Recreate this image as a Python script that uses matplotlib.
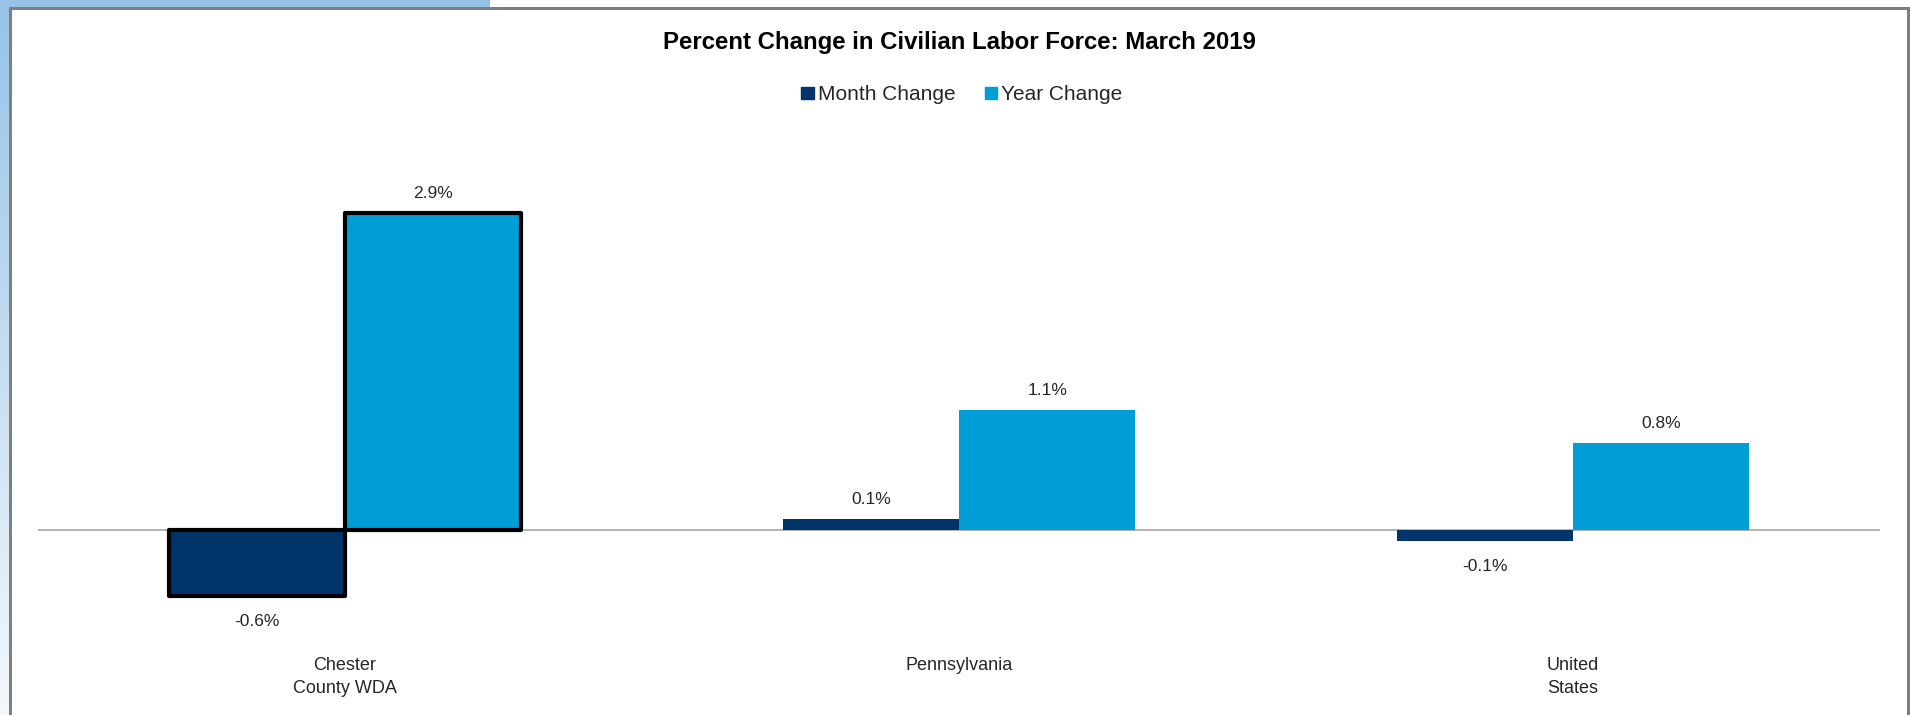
import matplotlib
matplotlib.use("Agg")
import matplotlib.pyplot as plt
import numpy as np
from matplotlib.patches import Rectangle, Patch

plt.rcParams['font.family'] = ['Liberation Sans', 'DejaVu Sans']

regions = ['Chester\nCounty WDA', 'Pennsylvania', 'United\nStates']
month_change = [-0.6, 0.1, -0.1]
year_change = [2.9, 1.1, 0.8]
series_names = ['Month Change', 'Year Change']
month_color = '#013469'
year_color = '#009DD6'

W, H = 1910, 715
fig = plt.figure(figsize=(W / 100, H / 100), dpi=100, facecolor='white')

# background: blue gradient strip on the left, grey frame around the chart
bg = fig.add_axes([0, 0, 1, 1], zorder=-5)
bg.set_xlim(0, W)
bg.set_ylim(H, 0)
bg.axis('off')
top_rgb = np.array([0x96, 0xC3, 0xE6]) / 255
bot_rgb = np.array([0xF4, 0xF8, 0xFC]) / 255
t = np.linspace(0, 1, 256)[:, None]
grad = (top_rgb * (1 - t) + bot_rgb * t)[:, None, :]
bg.imshow(grad, extent=[0, 10, H, 0], aspect='auto', interpolation='bilinear')
bg.add_patch(Rectangle((0, 0), 490, 8, color=top_rgb, lw=0))
frame = '#7F7F7F'
bg.add_patch(Rectangle((9, 7), 3, H - 7, color=frame, lw=0))
bg.add_patch(Rectangle((9, 7), W - 9, 3, color=frame, lw=0))
bg.add_patch(Rectangle((1907, 7), 3, H - 7, color=frame, lw=0))

# plot area
ax_left, ax_right, ax_top, ax_bottom = 38, 1880, 150, 640
ax = fig.add_axes([ax_left / W, 1 - ax_bottom / H,
                   (ax_right - ax_left) / W, (ax_bottom - ax_top) / H])
px_per_unit = 317 / 2.9
zero_y = 530
ax.set_ylim(-(ax_bottom - zero_y) / px_per_unit, (zero_y - ax_top) / px_per_unit)
ax.set_xlim(-0.5, len(regions) - 0.5)
for s in ax.spines.values():
    s.set_visible(False)
ax.set_yticks([])
ax.axhline(0, color='#A6A6A6', lw=1.2, zorder=1)

x = np.arange(len(regions))
w = 0.287
month_bars = ax.bar(x - w / 2, month_change, w, color=month_color, zorder=2)
year_bars = ax.bar(x + w / 2, year_change, w, color=year_color, zorder=2)
# highlight the county bars
for b in (month_bars[0], year_bars[0]):
    b.set_edgecolor('black')
    b.set_linewidth(3)
    b.set_joinstyle('round')

for bars, vals in ((month_bars, month_change), (year_bars, year_change)):
    for b, v in zip(bars, vals):
        cx = b.get_x() + b.get_width() / 2
        off = 10.5 if v >= 0 else -22
        ax.annotate(f'{v:.1f}%', (cx, v), xytext=(0, off), textcoords='offset points',
                    ha='center', va='baseline', fontsize=12.5, color='#262626')

ax.set_xticks(x)
ax.set_xticklabels(regions, fontsize=13, color='#262626', linespacing=1.45)
ax.tick_params(axis='x', length=0, pad=12)

fig.text(959 / W, 1 - 43 / H, 'Percent Change in Civilian Labor Force: March 2019',
         ha='center', va='center', fontsize=17.3, fontweight='bold', color='black')

handles = [Patch(color=month_color), Patch(color=year_color)]
fig.legend(handles, series_names, loc='center', bbox_to_anchor=(962 / W, 1 - 95 / H),
           ncol=2, frameon=False, fontsize=15, handlelength=0.6, handleheight=0.55,
           handletextpad=0.2, columnspacing=1.4, labelcolor='#262626')

fig.savefig('out.png', dpi=100, facecolor='white')
